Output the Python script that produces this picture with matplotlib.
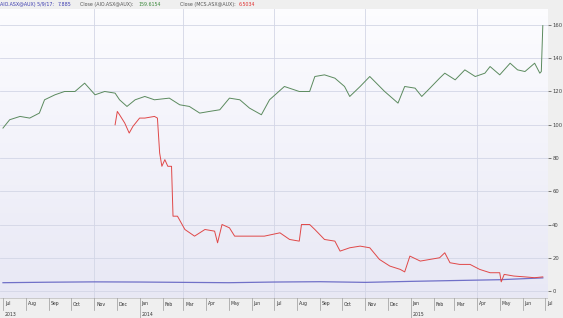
import matplotlib
matplotlib.use('Agg')
import matplotlib.pyplot as plt
import matplotlib.dates as mdates
import numpy as np
from datetime import date

# ---------------------------------------------------------------
# Data
green_dates = ['2013-07-01', '2013-07-10', '2013-07-24', '2013-08-06', '2013-08-19',
               '2013-08-26', '2013-09-09', '2013-09-22', '2013-10-06', '2013-10-19',
               '2013-11-02', '2013-11-15', '2013-11-29', '2013-12-05', '2013-12-15',
               '2013-12-26', '2014-01-08', '2014-01-21', '2014-02-10', '2014-02-24',
               '2014-03-09', '2014-03-23', '2014-04-05', '2014-04-19', '2014-05-02',
               '2014-05-16', '2014-05-29', '2014-06-14', '2014-06-25', '2014-07-15',
               '2014-08-04', '2014-08-18', '2014-08-25', '2014-09-07', '2014-09-21',
               '2014-10-04', '2014-10-11', '2014-10-25', '2014-11-07', '2014-11-27',
               '2014-12-15', '2014-12-24', '2015-01-07', '2015-01-16', '2015-01-27',
               '2015-02-09', '2015-02-16', '2015-03-02', '2015-03-15', '2015-03-29',
               '2015-04-11', '2015-04-18', '2015-05-01', '2015-05-15', '2015-05-25',
               '2015-06-04', '2015-06-17', '2015-06-24', '2015-06-26', '2015-06-28']
green_vals = [98, 103, 105, 104, 107,
              115, 118, 120, 120, 125,
              118, 120, 119, 115, 111,
              115, 117, 115, 116, 112,
              111, 107, 108, 109, 116,
              115, 110, 106, 115, 123,
              120, 120, 129, 130, 128,
              123, 117, 123, 129, 120,
              113, 123, 122, 117, 122,
              128, 131, 127, 133, 129,
              131, 135, 130, 137, 133,
              132, 137, 131, 132, 159.6]

red_dates = ['2013-11-29', '2013-12-02', '2013-12-05', '2013-12-12', '2013-12-18',
             '2013-12-23', '2014-01-01', '2014-01-08', '2014-01-21', '2014-01-25',
             '2014-01-28', '2014-01-31', '2014-02-04', '2014-02-08', '2014-02-13',
             '2014-02-15', '2014-02-21', '2014-03-03', '2014-03-16', '2014-03-30',
             '2014-04-12', '2014-04-16', '2014-04-22', '2014-05-02', '2014-05-09',
             '2014-05-29', '2014-06-18', '2014-07-09', '2014-07-22', '2014-08-04',
             '2014-08-07', '2014-08-18', '2014-08-25', '2014-09-07', '2014-09-21',
             '2014-09-28', '2014-10-11', '2014-10-25', '2014-11-07', '2014-11-20',
             '2014-12-04', '2014-12-18', '2014-12-24', '2014-12-31', '2015-01-14',
             '2015-01-27', '2015-02-09', '2015-02-16', '2015-02-23', '2015-03-08',
             '2015-03-22', '2015-04-04', '2015-04-18', '2015-05-01', '2015-05-03',
             '2015-05-07', '2015-05-20', '2015-06-04', '2015-06-17', '2015-06-28']
red_vals = [100, 108, 106, 101, 95,
            99, 104, 104, 105, 104,
            83, 75, 79, 75, 75,
            45, 45, 37, 33, 37,
            36, 29, 40, 38, 33,
            33, 33, 35, 31, 30,
            40, 40, 37, 31, 30,
            24, 26, 27, 26, 19,
            15, 13, 11.5, 21, 18,
            19, 20, 23, 17, 16,
            16, 13, 11, 11, 5.5,
            10, 9, 8.5, 8, 8.5]

blue_dates = ['2013-07-01', '2013-09-01', '2013-11-01', '2014-01-01', '2014-03-01',
              '2014-05-01', '2014-07-01', '2014-09-01', '2014-11-01', '2015-01-01',
              '2015-03-01', '2015-05-01', '2015-06-28']
blue_vals = [5.0, 5.3, 5.5, 5.4, 5.2, 5.0, 5.4, 5.6, 5.2, 5.8, 6.3, 6.8, 7.9]

y_ticks = [0, 20, 40, 60, 80, 100, 120, 140, 160]
grid_dates = ['2013-11-01', '2014-03-01', '2014-07-01', '2014-11-01', '2015-04-01']
month_names = ['Jan', 'Feb', 'Mar', 'Apr', 'May', 'Jun',
               'Jul', 'Aug', 'Sep', 'Oct', 'Nov', 'Dec']


def to_num(ds):
    return mdates.datestr2num(ds)


W, H = 563, 318
fig = plt.figure(figsize=(W / 100, H / 100), dpi=100, facecolor='#efefef')

ax_l, ax_r = 0, 548
ax_top, ax_bot = 9, 298
ax = fig.add_axes([ax_l / W, (H - ax_bot) / H, (ax_r - ax_l) / W, (ax_bot - ax_top) / H])

x0 = mdates.date2num(date(2013, 7, 1)) - 4
x1 = mdates.date2num(date(2015, 7, 1)) + 4
ax.set_xlim(x0, x1)
ax.set_ylim(-4.2, 169.6)

# background gradient (white to pale lavender)
grad = np.linspace(0, 1, 256).reshape(-1, 1)
top_c = np.array([0.99, 0.99, 1.0])
bot_c = np.array([0.91, 0.91, 0.96])
img = top_c + (bot_c - top_c) * grad[:, :, None]
ax.imshow(img, extent=[0, 1, 0, 1], transform=ax.transAxes, aspect='auto', zorder=0, origin='upper')

for v in y_ticks:
    ax.axhline(v, color='#d3d6e6', lw=0.6, zorder=1)
for d in to_num(grid_dates):
    ax.axvline(d, color='#d3d6e6', lw=0.6, zorder=1)

ax.plot(to_num(blue_dates), blue_vals, color='#7070c8', lw=0.9, zorder=3)
ax.plot(to_num(red_dates), red_vals, color='#e04848', lw=0.7, zorder=3)
ax.plot(to_num(green_dates), green_vals, color='#5b8a5e', lw=0.7, zorder=4)

ax.set_xticks([])
ax.yaxis.tick_right()
ax.set_yticks(y_ticks)
ax.set_yticklabels([str(v) for v in y_ticks])
ax.tick_params(axis='y', labelsize=3.8, length=2, width=0.5, pad=1, colors='#444444')
for s in ax.spines.values():
    s.set_visible(False)

# bottom date band
bx = fig.add_axes([ax_l / W, 0, (ax_r - ax_l) / W, (H - ax_bot) / H])
bx.set_xlim(x0, x1)
bx.set_ylim(0, H - ax_bot)
bx.set_facecolor('#ececec')
bx.axis('off')
bx.axhline(H - ax_bot - 0.3, color='#bbbbbb', lw=0.5)
for yr in (2013, 2014, 2015):
    for m in range(1, 13):
        if (yr == 2013 and m < 7) or (yr == 2015 and m > 7):
            continue
        xm = mdates.date2num(date(yr, m, 1))
        if m == 1:
            bx.plot([xm, xm], [0, 20], color='#999999', lw=0.5)
        else:
            bx.plot([xm, xm], [8, 20], color='#999999', lw=0.5)
        bx.text(xm + 2.5, 14, month_names[m - 1], fontsize=3.3, color='#333333',
                ha='left', va='center')
for yr, xd in ((2013, date(2013, 7, 1)), (2014, date(2014, 1, 1)), (2015, date(2015, 1, 1))):
    bx.text(mdates.date2num(xd) + 2.5, 4, str(yr), fontsize=3.3, color='#333333',
            ha='left', va='center')

# header legend
hy = 1 - 4.5 / H
fig.text(0.5 / W, hy, 'AIO.ASX@AUX) 5/9/17:', fontsize=3.4, color='#3b3bb0', va='center')
fig.text(58 / W, hy, '7.885', fontsize=3.4, color='#3b3bb0', va='center')
fig.text(80 / W, hy, 'Close (AIO.ASX@AUX):', fontsize=3.4, color='#555555', va='center')
fig.text(138 / W, hy, '159.6154', fontsize=3.4, color='#3d8a3d', va='center')
fig.text(180 / W, hy, 'Close (MCS.ASX@AUX):', fontsize=3.4, color='#555555', va='center')
fig.text(239 / W, hy, '6.5034', fontsize=3.4, color='#e03030', va='center')

plt.savefig('out.png', dpi=100, facecolor=fig.get_facecolor())
plt.close()
